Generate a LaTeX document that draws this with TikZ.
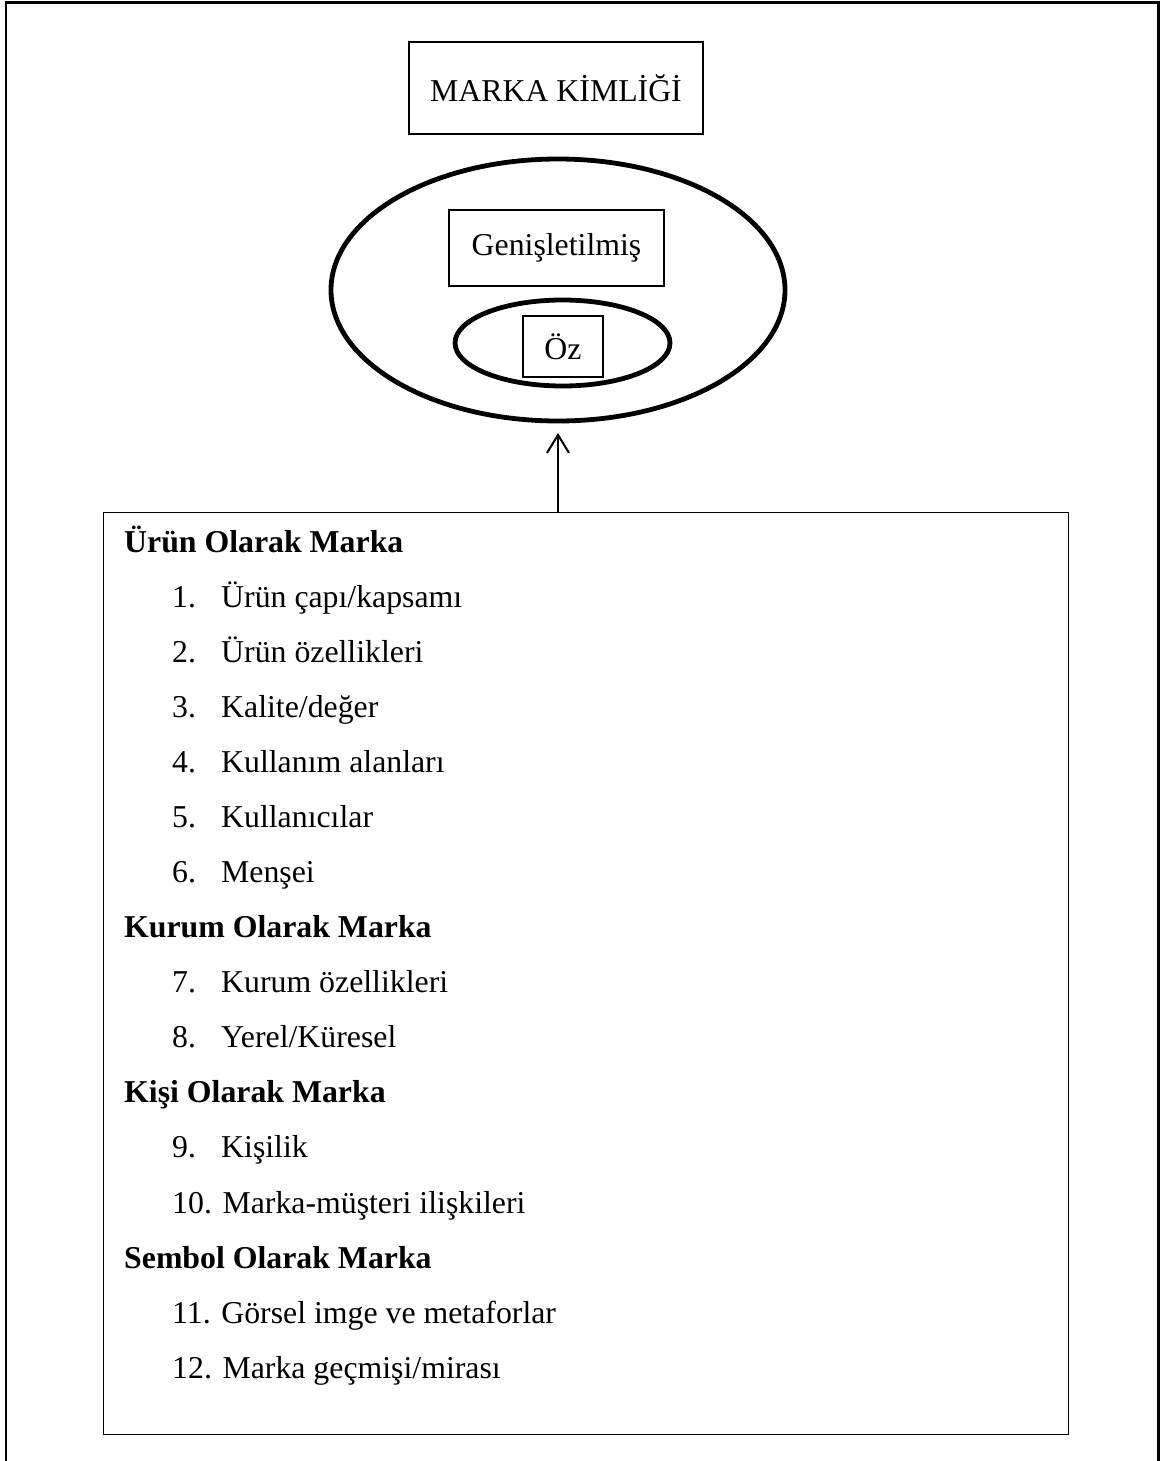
\documentclass[tikz,border=0pt]{standalone}
\usepackage{fontspec}
\setmainfont{Liberation Serif}
\usetikzlibrary{shapes.geometric,arrows.meta,calc}
\begin{document}
\begin{tikzpicture}[x=1pt,y=-1pt,
  every node/.style={font=\fontsize{31.8pt}{38pt}\selectfont},
  thinbox/.style={draw,line width=1.4pt,inner sep=0pt},
  ring/.style={draw,ellipse,line width=4.8pt,inner sep=0pt},
  heading/.style={anchor=base west,inner sep=0pt,font=\fontsize{31.8pt}{38pt}\selectfont\bfseries},
  itemnum/.style={anchor=base west,inner sep=0pt},
  itemtext/.style={anchor=base west,inner sep=0pt}]
\useasboundingbox (0,0) rectangle (1163,1461);
\fill[white] (0,0) rectangle (1163,1461);

% page frame (runs past the bottom edge)
\draw[line width=2.2pt] (6,1461) -- (6,2.5) -- (1158.5,2.5) -- (1158.5,1461);

% title box
\node[thinbox,minimum width=294pt,minimum height=92pt] (title) at (556,88) {MARKA KİMLİĞİ};

% identity rings
\node[ring,minimum width=454pt,minimum height=262pt] (outer) at (558,290) {};
\node[ring,minimum width=215pt,minimum height=86pt] (inner) at (562.5,343) {};
\node[thinbox,minimum width=215pt,minimum height=76pt] (ext) at (556.5,248) {Genişletilmiş};
\node[thinbox,minimum width=80pt,minimum height=61pt] (core) at (563,346.5) {Öz};

% dimensions box
\node[thinbox,anchor=north west,minimum width=965pt,minimum height=922pt] (list) at (103,512) {};
\coordinate (tip) at (558,433);
\draw[line width=2pt,-{Straight Barb[length=18pt,width=22pt,line width=2pt]}] (list.north -| tip) -- (tip);

% list contents
\def\hx{124}
\def\nx{172}
\def\tx{221}
\node[heading] (h1) at (\hx,552) {Ürün Olarak Marka};
\foreach \n/\t/\y in {1/Ürün çapı\slash kapsamı/607, 2/Ürün özellikleri/662, 3/Kalite\slash değer/717,
                      4/Kullanım alanları/772, 5/Kullanıcılar/827, 6/Menşei/882}{
  \node[itemnum] (n\n) at (\nx,\y) {\n.};
  \node[itemtext] (t\n) at (\tx,\y) {\t};
}
\node[heading] (h2) at (\hx,937) {Kurum Olarak Marka};
\foreach \n/\t/\y in {7/Kurum özellikleri/992, 8/Yerel\slash Küresel/1047}{
  \node[itemnum] (n\n) at (\nx,\y) {\n.};
  \node[itemtext] (t\n) at (\tx,\y) {\t};
}
\node[heading] (h3) at (\hx,1102) {Kişi Olarak Marka};
\node[itemnum] (n9) at (\nx,1157) {9.};
\node[itemtext] (t9) at (\tx,1157) {Kişilik};
\node[itemnum] (n10) at (\nx,1213) {10. Marka-müşteri ilişkileri};
\node[heading] (h4) at (\hx,1268) {Sembol Olarak Marka};
\node[itemnum] (n11) at (\nx,1323) {11. Görsel imge ve metaforlar};
\node[itemnum] (n12) at (\nx,1378) {12. Marka geçmişi\slash mirası};
\end{tikzpicture}
\end{document}
